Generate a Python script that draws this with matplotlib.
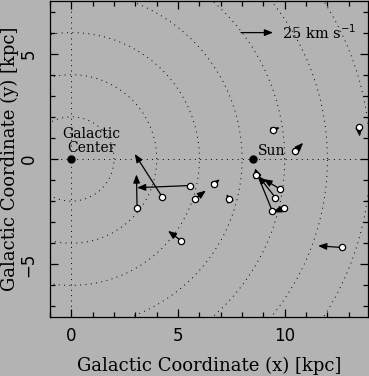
import numpy as np
import matplotlib
matplotlib.use("Agg")
import matplotlib.pyplot as plt

# cluster positions [kpc] and velocity components [km/s]
x_pos = [9.45, 10.5, 13.47, 5.55, 4.25, 3.08, 5.78, 6.67, 7.39, 5.16, 12.66,
         9.77, 9.56, 9.41, 9.95, 8.67]
y_pos = [1.37, 0.38, 1.53, -1.26, -1.79, -2.34, -1.9, -1.2, -1.9, -3.89, -4.2,
         -1.42, -1.83, -2.46, -2.34, -0.76]
vx = [5.3, 6.0, 0.7, -41.2, -21.3, -0.5, 8.7, 4.8, -2.0, -10.5, -18.3,
      -12.8, -13.5, -13.5, -8.3, -1.2]
vy = [2.2, 6.5, -7.8, -1.7, 33.8, 26.8, 6.7, 4.0, 4.0, 8.0, 1.3,
      7.8, 17.3, 33.7, -3.2, 4.3]

ring_radii = [2, 4, 6, 8, 10, 12, 14]
sun_x = 8.5
ref_speed = 25.0      # km/s
kpc_per_kms = 1.5 / ref_speed

bg = '#b3b3b3'
plt.rcParams['font.family'] = 'DejaVu Serif'

fig = plt.figure(figsize=(3.69, 3.76), dpi=100, facecolor=bg)
ax = fig.add_axes([50 / 369, 59 / 376, 318 / 369, 316 / 376], facecolor=bg)

# galactocentric rings and axes
dots = (0, (1, 4.5))
t = np.linspace(0, 2 * np.pi, 720)
for r in ring_radii:
    ax.plot(r * np.cos(t), r * np.sin(t), color='k', lw=0.7, ls=dots)
ax.axhline(0, color='k', lw=0.7, ls=dots)
ax.axvline(0, color='k', lw=0.7, ls=dots)

arrow_style = '-|>,head_length=0.5,head_width=0.2'
for x, y, u, v in zip(x_pos, y_pos, vx, vy):
    ax.annotate('', xy=(x + u * kpc_per_kms, y + v * kpc_per_kms), xytext=(x, y),
                arrowprops=dict(arrowstyle=arrow_style, color='k', lw=0.9,
                                shrinkA=0, shrinkB=0, mutation_scale=10))
ax.plot(x_pos, y_pos, 'o', ms=4.5, mfc='white', mec='k', mew=0.9, zorder=5)

# Galactic Center and Sun
ax.plot([0, sun_x], [0, 0], 'o', color='k', ms=5, zorder=5)
ax.text(0.95, 0.85, 'Galactic\nCenter', ha='center', va='center', fontsize=10,
        linespacing=1.0)
ax.text(sun_x + 0.25, 0.38, 'Sun', ha='left', va='center', fontsize=10)

# reference arrow
ax.annotate('', xy=(7.95 + ref_speed * kpc_per_kms, 6.0), xytext=(7.95, 6.0),
            arrowprops=dict(arrowstyle=arrow_style, color='k', lw=0.9,
                            shrinkA=0, shrinkB=0, mutation_scale=10))
ax.text(9.85, 6.0, '25 km s$^{-1}$', ha='left', va='center', fontsize=10.5)

ax.set_xlim(-1, 13.9)
ax.set_ylim(-7.5, 7.5)
ax.set_xticks([0, 5, 10])
ax.set_yticks([-5, 0, 5])
ax.set_xticks(np.arange(-1, 14), minor=True)
ax.set_yticks(np.arange(-7, 8), minor=True)
ax.tick_params(which='both', direction='in', top=True, right=True, labelsize=12)
ax.tick_params(which='major', length=6, width=0.9)
ax.tick_params(which='minor', length=3.5, width=0.9)
ax.tick_params(axis='x', pad=7)
ax.tick_params(axis='y', pad=9)
for lab in ax.get_xticklabels() + ax.get_yticklabels():
    lab.set_family('DejaVu Sans')
plt.setp(ax.get_yticklabels(), rotation=90, va='center')
for s in ax.spines.values():
    s.set_linewidth(0.9)

ax.set_xlabel('Galactic Coordinate (x) [kpc]', fontsize=13, va='center')
ax.set_ylabel('Galactic Coordinate (y) [kpc]', fontsize=13, va='center')
ax.xaxis.set_label_coords(0.5, (317 - 366) / 316)
ax.yaxis.set_label_coords((10 - 50) / 318, 0.5)

fig.savefig('out.png', dpi=100, facecolor=bg)
